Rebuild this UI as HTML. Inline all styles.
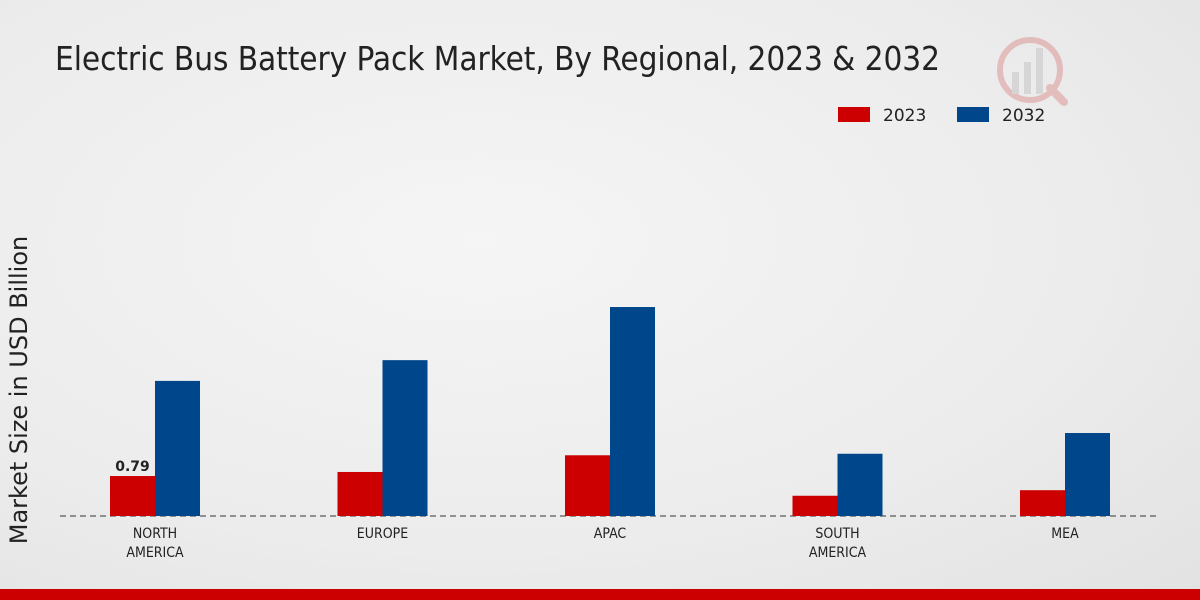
<!DOCTYPE html>
<html><head><meta charset="utf-8"><style>
body{margin:0;width:1200px;height:600px;overflow:hidden;font-family:"DejaVu Sans","Liberation Sans",sans-serif;}
#bg{position:absolute;left:0;top:0;width:1200px;height:600px;background:radial-gradient(ellipse at 40% 40%,#f5f5f5 0%,#ececec 60%,#e2e2e2 100%);}
</style></head><body>
<div id="bg"></div>
<svg id="chart" width="1200" height="600" style="position:absolute;left:0;top:0">
<text x="55" y="70" font-size="33" fill="#222" font-family="DejaVu Sans Condensed,DejaVu Sans,sans-serif" textLength="885">Electric Bus Battery Pack Market, By Regional, 2023 &amp; 2032</text>
<g>
<rect x="838" y="107" width="32" height="15" fill="#cc0000"/>
<text x="883" y="121" font-size="17" fill="#222">2023</text>
<rect x="957" y="107" width="32" height="15" fill="#00468b"/>
<text x="1002" y="121" font-size="17" fill="#222">2032</text>
</g>
<g opacity="0.25">
<circle cx="1030" cy="70" r="30" fill="none" stroke="#cc3333" stroke-width="6"/>
<rect x="1012" y="72" width="7" height="22" fill="#999"/><rect x="1024" y="62" width="7" height="32" fill="#999"/><rect x="1036" y="48" width="7" height="46" fill="#999"/>
<line x1="1050" y1="88" x2="1064" y2="102" stroke="#cc3333" stroke-width="8" stroke-linecap="round"/>
</g>
<text transform="translate(27,390) rotate(-90)" text-anchor="middle" font-size="24" fill="#222">Market Size in USD Billion</text>
<line x1="60" y1="516" x2="1160" y2="516" stroke="#333" stroke-dasharray="6,4"/>
<g id="bars"></g>
<rect x="0" y="589" width="1200" height="11" fill="#cc0000"/>
</svg>
<script>
const categories=[["NORTH","AMERICA"],["EUROPE"],["APAC"],["SOUTH","AMERICA"],["MEA"]];
const values2023=[0.79,0.87,1.2,0.4,0.51];
const values2032=[2.67,3.08,4.13,1.23,1.64];
const shownLabels=["0.79",null,null,null,null];
const ns="http://www.w3.org/2000/svg";
const g=document.getElementById('bars');
const base=516,scale=50.6,x0=155,step=227.5,bw=45;
function y(v){return base-v*scale;}
function xc(i){return x0+i*step;}
function mk(t,a){const e=document.createElementNS(ns,t);for(const k in a)e.setAttribute(k,a[k]);g.appendChild(e);return e;}
categories.forEach((c,i)=>{
  const r=mk('rect',{x:xc(i)-bw,y:y(values2023[i]),width:bw,height:values2023[i]*scale,fill:'#cc0000'});
  
  
  const b=mk('rect',{x:xc(i),y:y(values2032[i]),width:bw,height:values2032[i]*scale,fill:'#00468b'});
  
  
  if(shownLabels[i]){const t=mk('text',{x:xc(i)-bw/2,y:y(values2023[i])-5,'text-anchor':'middle','font-size':'14','font-weight':'bold',fill:'#222'});t.textContent=shownLabels[i];
  
  }
  c.forEach((line,j)=>{const t=mk('text',{x:xc(i),y:538+j*19,'text-anchor':'middle','font-size':'14',fill:'#222','font-family':'DejaVu Sans Condensed,DejaVu Sans,sans-serif'});t.textContent=line;
  
  });
});
</script>
</body></html>
